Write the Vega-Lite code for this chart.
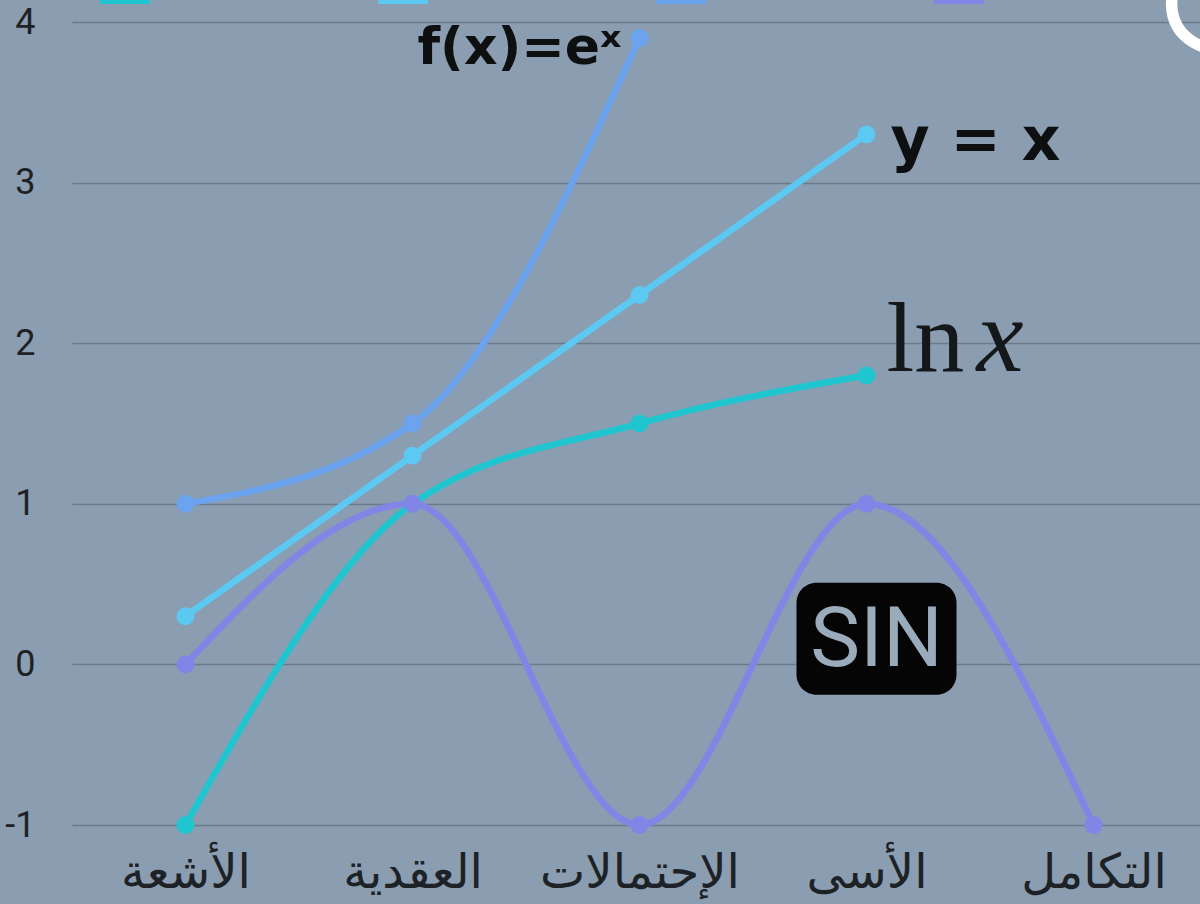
{
  "$schema": "https://vega.github.io/schema/vega-lite/v6.json",
  "width": 1135,
  "height": 803,
  "autosize": "none",
  "padding": {"left": 72, "top": 22, "right": -7, "bottom": 79},
  "background": "#8b9db0",
  "config": {
    "view": {"stroke": null},
    "axisX": {
      "labelFont": "DejaVu Sans",
      "labelFontSize": 48,
      "labelColor": "#1c2226",
      "labelPadding": 24,
      "labelAngle": 0,
      "labelLimit": 400,
      "ticks": false,
      "domain": false,
      "grid": false,
      "title": null
    },
    "axisY": {
      "labelFont": "Roboto",
      "labelFontSize": 36,
      "labelColor": "#1e2226",
      "labelPadding": 37,
      "ticks": false,
      "domain": false,
      "grid": true,
      "gridColor": "#6b7b8b",
      "gridWidth": 1.5,
      "title": null
    },
    "legend": {
      "orient": "none",
      "legendX": 28,
      "legendY": -68,
      "direction": "horizontal",
      "columns": 4,
      "gridAlign": "all",
      "symbolType": "square",
      "symbolSize": 2500,
      "symbolStrokeWidth": 0,
      "labelFontSize": 34,
      "labelFont": "Roboto",
      "labelColor": "#1e2226",
      "columnPadding": 108,
      "title": null
    }
  },
  "datasets": {
    "curves": [
      {"cat": "الأشعة", "series": "ln x", "v": -1},
      {"cat": "العقدية", "series": "ln x", "v": 1},
      {"cat": "الإحتمالات", "series": "ln x", "v": 1.5},
      {"cat": "الأسى", "series": "ln x", "v": 1.8},
      {"cat": "الأشعة", "series": "y = x", "v": 0.3},
      {"cat": "العقدية", "series": "y = x", "v": 1.3},
      {"cat": "الإحتمالات", "series": "y = x", "v": 2.3},
      {"cat": "الأسى", "series": "y = x", "v": 3.3},
      {"cat": "الأشعة", "series": "f(x) = eˣ", "v": 1},
      {"cat": "العقدية", "series": "f(x) = eˣ", "v": 1.5},
      {"cat": "الإحتمالات", "series": "f(x) = eˣ", "v": 3.9},
      {"cat": "الأشعة", "series": "sin x", "v": 0},
      {"cat": "العقدية", "series": "sin x", "v": 1},
      {"cat": "الإحتمالات", "series": "sin x", "v": -1},
      {"cat": "الأسى", "series": "sin x", "v": 1},
      {"cat": "التكامل", "series": "sin x", "v": -1}
    ]
  },
  "encoding": {
    "x": {
      "field": "cat",
      "type": "ordinal",
      "sort": ["الأشعة", "العقدية", "الإحتمالات", "الأسى", "التكامل"],
      "scale": {"type": "point", "padding": 0.5}
    },
    "y": {
      "field": "v",
      "type": "quantitative",
      "scale": {"domain": [-1, 4], "nice": false, "zero": false},
      "axis": {
        "values": [-1, 0, 1, 2, 3, 4],
        "labelExpr": "datum.value < 0 ? '-' + abs(datum.value) : datum.label"
      }
    }
  },
  "layer": [
    {
      "data": {"name": "curves"},
      "mark": {"type": "line", "interpolate": "monotone", "strokeWidth": 6.5, "strokeCap": "round"},
      "encoding": {
        "color": {
          "field": "series",
          "type": "nominal",
          "scale": {
            "domain": ["ln x", "y = x", "f(x) = eˣ", "sin x"],
            "range": ["#1fc6cf", "#5cc9f2", "#6ba3ef", "#8085e6"]
          }
        },
        "detail": {"field": "series"}
      }
    },
    {
      "data": {"name": "curves"},
      "mark": {"type": "point", "filled": true, "size": 320, "opacity": 1},
      "encoding": {
        "color": {
          "field": "series",
          "type": "nominal",
          "scale": {
            "domain": ["ln x", "y = x", "f(x) = eˣ", "sin x"],
            "range": ["#1fc6cf", "#5cc9f2", "#6ba3ef", "#8085e6"]
          }
        }
      }
    },
    {
      "data": {"values": [{"label": "f(x)=eˣ", "cat": "الإحتمالات", "v": 3.9}]},
      "mark": {"type": "text", "align": "right", "baseline": "middle", "dx": -18, "dy": 10, "font": "DejaVu Sans", "fontWeight": "bold", "fontSize": 52, "fill": "#0d0f10"},
      "encoding": {"text": {"field": "label"}}
    },
    {
      "data": {"values": [{"label": "y = x", "cat": "الأسى", "v": 3.3}]},
      "mark": {"type": "text", "align": "left", "baseline": "middle", "dx": 24, "dy": 8, "font": "DejaVu Sans", "fontWeight": "bold", "fontSize": 60, "fill": "#0d0f10"},
      "encoding": {"text": {"field": "label"}}
    },
    {
      "data": {"values": [{"label": "ln", "cat": "الأسى", "v": 1.8}]},
      "mark": {"type": "text", "align": "left", "baseline": "alphabetic", "dx": 20, "dy": -4, "font": "Liberation Serif", "fontSize": 100, "fill": "#15181a"},
      "encoding": {"text": {"field": "label"}}
    },
    {
      "data": {"values": [{"label": "x", "cat": "الأسى", "v": 1.8}]},
      "mark": {"type": "text", "align": "left", "baseline": "alphabetic", "dx": 110, "dy": -4, "font": "Liberation Serif", "fontStyle": "italic", "fontSize": 106, "fill": "#15181a"},
      "encoding": {"text": {"field": "label"}}
    },
    {
      "data": {"values": [{"cat": "الأسى", "v": 0.16}]},
      "mark": {"type": "rect", "width": 160, "height": 112, "cornerRadius": 20, "fill": "#050505"},
      "encoding": {"xOffset": {"value": 10}}
    },
    {
      "data": {"values": [{"label": "SIN", "cat": "الأسى", "v": 0.16}]},
      "mark": {"type": "text", "align": "center", "baseline": "middle", "dx": 10, "dy": 2, "font": "Roboto", "fontSize": 84, "fill": "#9aabbc"},
      "encoding": {"text": {"field": "label"}}
    },
    {
      "data": {"values": [{"label": "○", "cat": "التكامل", "v": 4}]},
      "mark": {"type": "text", "align": "center", "baseline": "middle", "dx": 124, "dy": -24, "font": "DejaVu Sans", "fontSize": 130, "fill": "#ffffff", "stroke": "#ffffff", "strokeWidth": 4},
      "encoding": {"text": {"field": "label"}}
    }
  ]
}
